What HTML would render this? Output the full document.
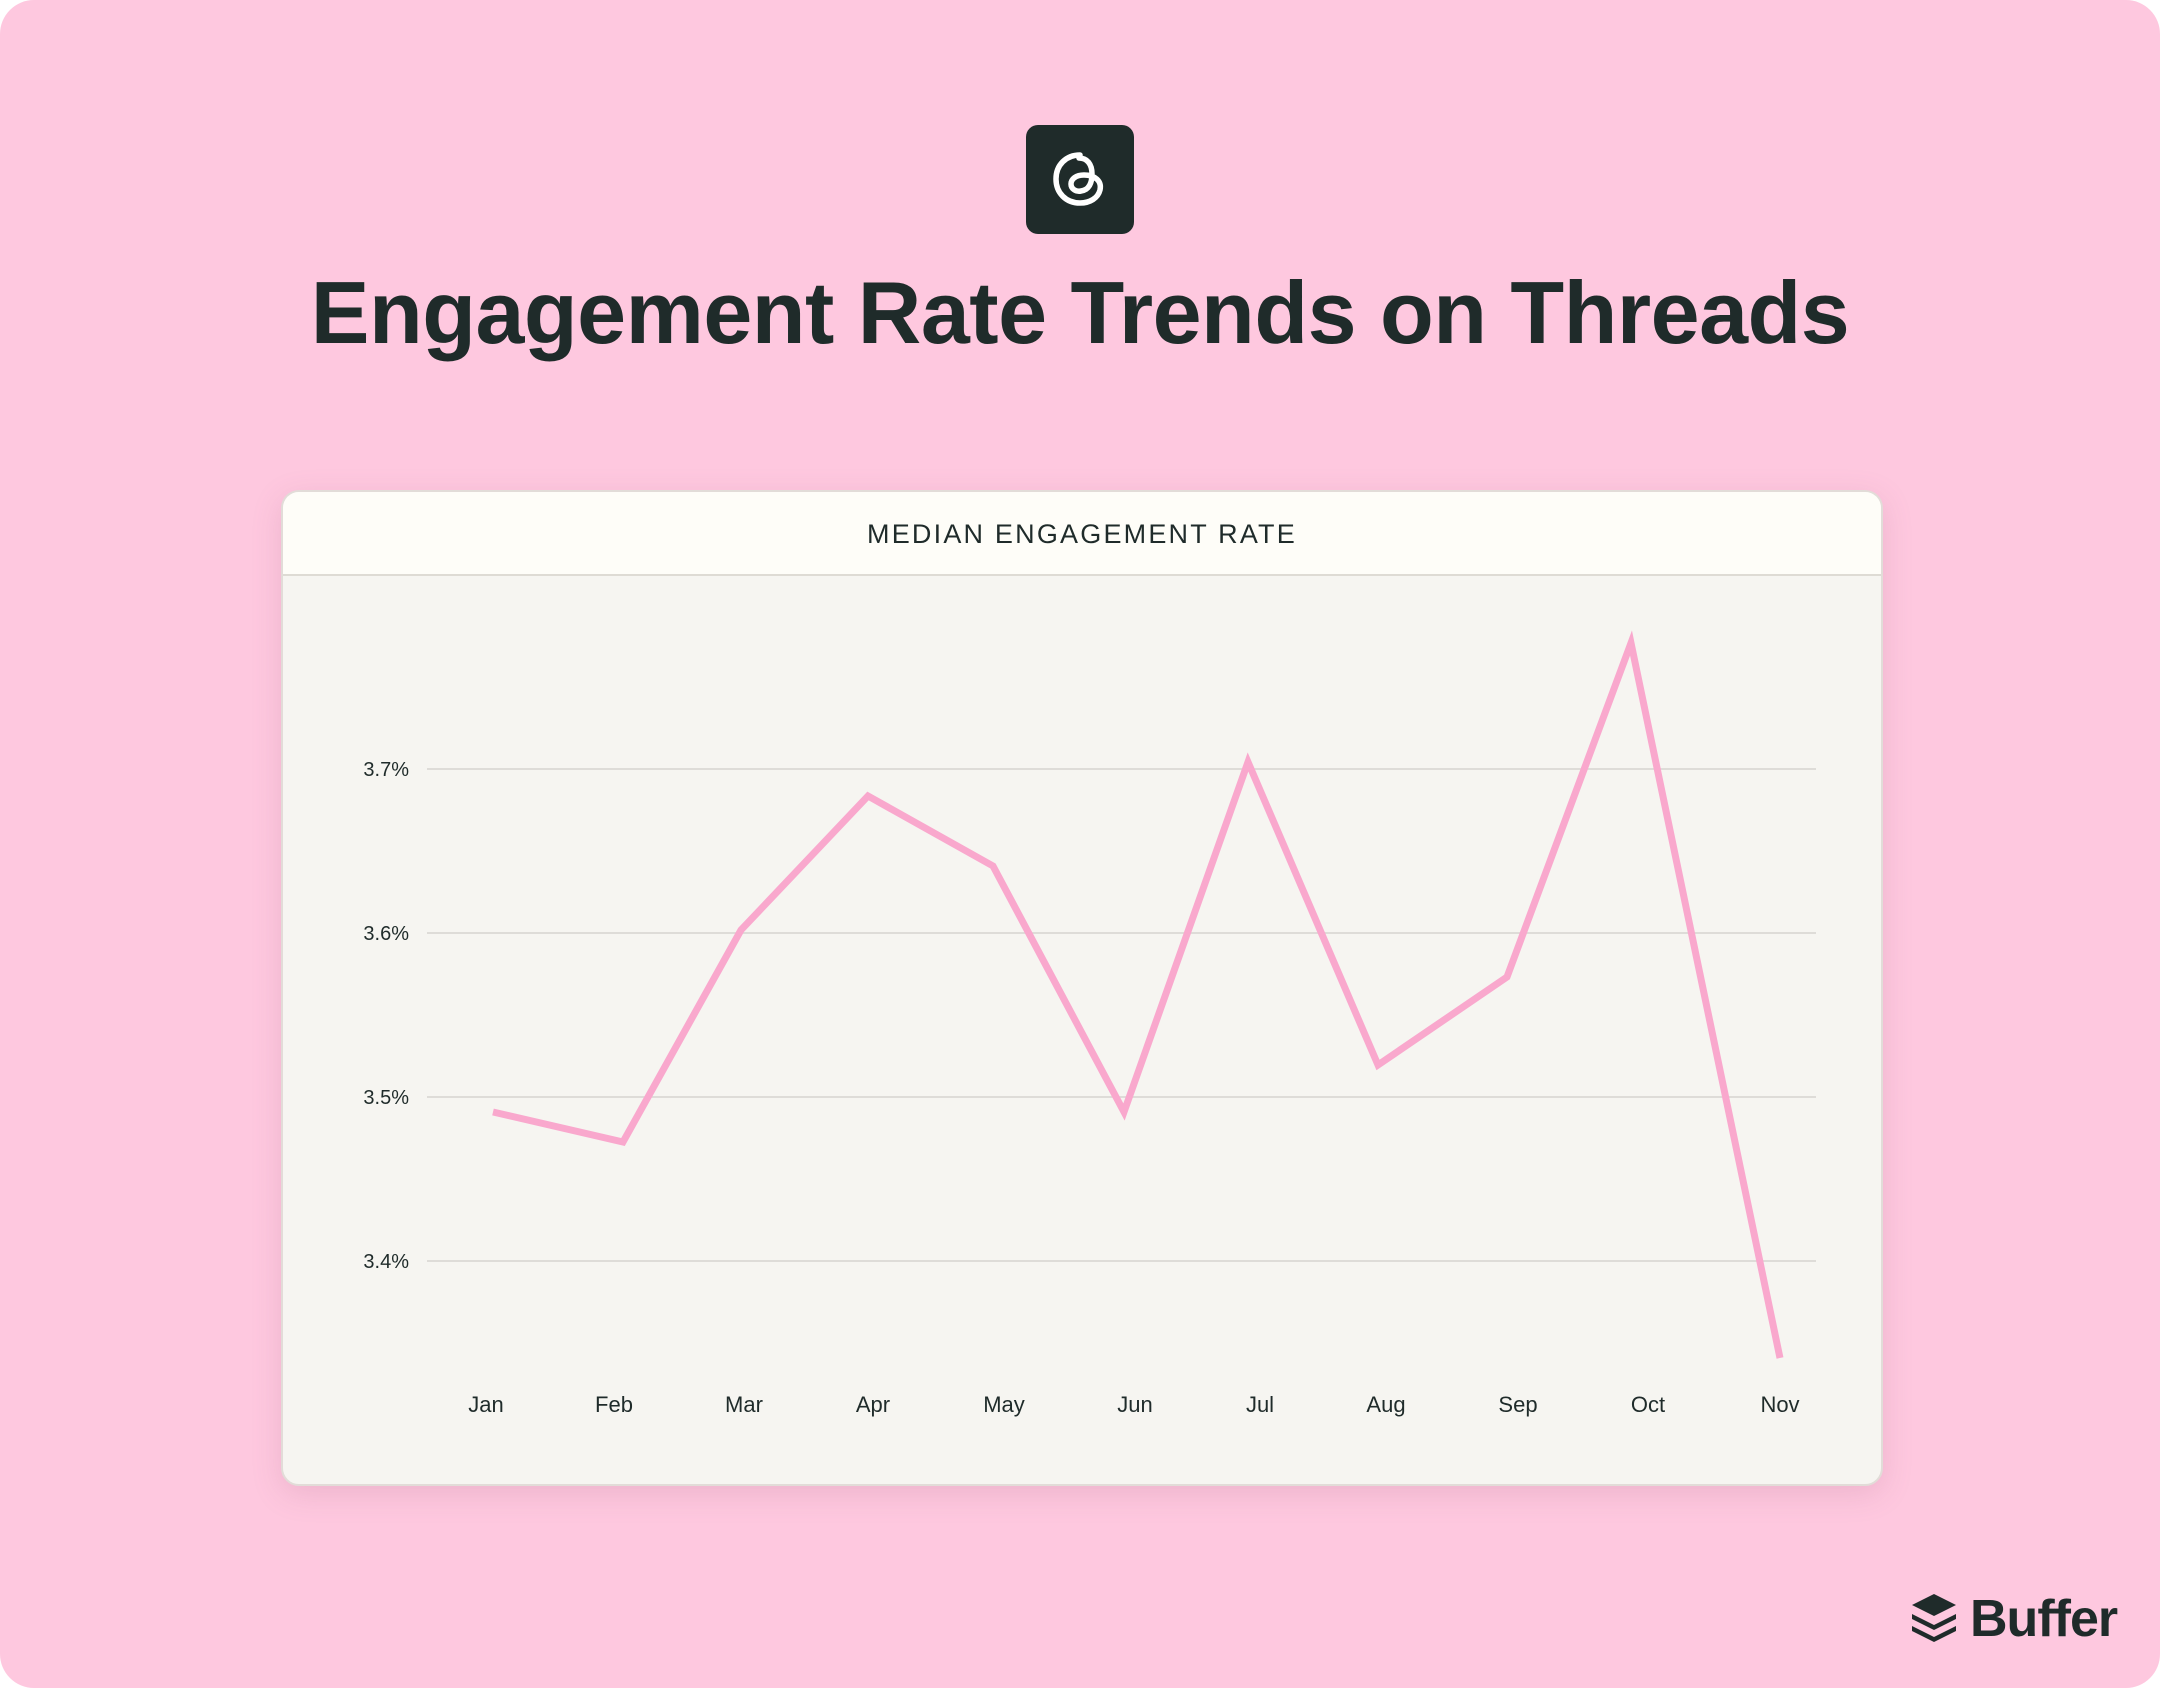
<!DOCTYPE html>
<html><head><meta charset="utf-8"><style>
html,body{margin:0;padding:0;background:#fff;}
body{width:2160px;height:1688px;overflow:hidden;font-family:"Liberation Sans",sans-serif;}
#bg{position:absolute;left:0;top:0;width:2160px;height:1688px;background:#fec8df;border-radius:34px;}
#icon{position:absolute;left:1026px;top:125px;width:108px;height:109px;background:#1f2b2a;border-radius:12px;}
#title{position:absolute;left:0;width:2160px;top:262px;text-align:center;font-size:88px;color:#1f2b2a;letter-spacing:-0.5px;font-weight:bold;}
#card{position:absolute;left:281px;top:490px;width:1598px;height:992px;background:#f6f5f1;border:2px solid #e2dcd8;border-radius:18px;box-shadow:0 8px 30px rgba(160,90,120,0.18);overflow:hidden;}
#hdr{position:absolute;left:0;top:0;width:100%;height:82px;background:#fefdf8;border-bottom:2px solid #dedbd4;text-align:center;line-height:84px;font-size:27px;letter-spacing:2.2px;color:#1f2b2a;}
</style></head><body>
<div id="bg"></div>
<div id="icon"><svg width="108" height="109" viewBox="0 0 108 109"><path d="M54 30c-14 0-24 10-24 24s10 24 24 24c10 0 18-5 20-13 2-9-5-15-16-15-8 0-13 4-13 9s5 8 10 7c8-1 11-8 11-17 0-10-5-16-13-16" fill="none" stroke="#fff" stroke-width="5.5" stroke-linecap="round"/></svg></div>
<div id="title">Engagement Rate Trends on Threads</div>
<div id="card"><div id="hdr">MEDIAN ENGAGEMENT RATE</div></div>
<svg style="position:absolute;left:0;top:0" width="2160" height="1688">
<g stroke="#d6d4cf" stroke-width="1.5">
<line x1="427" y1="769" x2="1816" y2="769"/><line x1="427" y1="933" x2="1816" y2="933"/>
<line x1="427" y1="1097" x2="1816" y2="1097"/><line x1="427" y1="1261" x2="1816" y2="1261"/></g>
<g font-size="20" fill="#1f2b2a" text-anchor="end" font-family="Liberation Sans,sans-serif">
<text x="409" y="776">3.7%</text><text x="409" y="940">3.6%</text><text x="409" y="1104">3.5%</text><text x="409" y="1268">3.4%</text></g>
<g font-size="22" fill="#1f2b2a" text-anchor="middle" font-family="Liberation Sans,sans-serif">
<text x="486" y="1412">Jan</text><text x="614" y="1412">Feb</text><text x="744" y="1412">Mar</text><text x="873" y="1412">Apr</text><text x="1004" y="1412">May</text><text x="1135" y="1412">Jun</text><text x="1260" y="1412">Jul</text><text x="1386" y="1412">Aug</text><text x="1518" y="1412">Sep</text><text x="1648" y="1412">Oct</text><text x="1780" y="1412">Nov</text></g>
<polyline fill="none" stroke="#f9a8cd" stroke-width="7" stroke-linejoin="miter" points="493,1112 623,1142 741,930 868,796 993,866 1124,1112 1248,762 1378,1065 1507,977 1631,643 1780,1358"/>
<g fill="#1f2b2a"><path d="M1934 1594l22 11-22 11-22-11z"/><path d="M1912 1614l22 11 22-11v5l-22 11-22-11z"/><path d="M1912 1626l22 11 22-11v5l-22 11-22-11z"/></g>
<text x="1970" y="1636" font-size="52" font-weight="bold" letter-spacing="-1" fill="#1f2b2a" font-family="Liberation Sans,sans-serif">Buffer</text>
</svg>
</body></html>
